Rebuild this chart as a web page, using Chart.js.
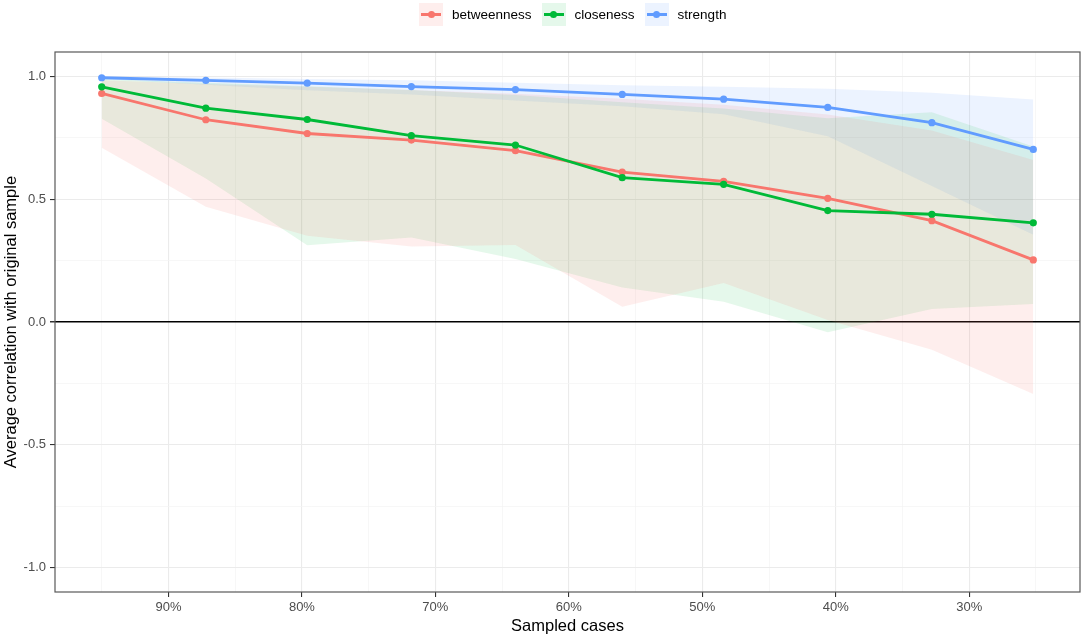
<!DOCTYPE html>
<html>
<head>
<meta charset="utf-8">
<script src="https://cdn.jsdelivr.net/npm/chart.js@4/dist/chart.umd.min.js"></script>
<style>
  html, body { margin: 0; padding: 0; background: #fff; }
  #wrap { position: relative; width: 1084px; height: 637px; }
  #legend {
    position: absolute; left: 419px; top: 3px;
    display: flex; align-items: center;
    font-family: "Liberation Sans", Arial, sans-serif; font-size: 13.5px; color: #000;
  }
  .item { display: flex; align-items: center; margin-right: 10px; }
  .key { position: relative; width: 24px; height: 23px; margin-right: 9px; }
  .key .ln { position: absolute; left: 2px; right: 2px; top: 10px; height: 3px; }
  .key .pt { position: absolute; left: 8.5px; top: 8px; width: 7px; height: 7px; border-radius: 50%; }
</style>
</head>
<body>
<div id="wrap">
  <canvas id="myChart" width="1084" height="637"></canvas>
  <div id="legend"></div>
</div>
<script>
// sampled cases (%)
const sampled = [95.0, 87.2, 79.6, 71.8, 64.0, 56.0, 48.4, 40.6, 32.8, 25.2];

const seriesNames = ["betweenness", "closeness", "strength"];
const seriesColors = ["#F8766D", "#00BA38", "#619CFF"];
const ribbonColors = ["rgba(248,118,109,0.12)", "rgba(0,186,56,0.10)", "rgba(97,156,255,0.12)"];

// average correlation with original sample
const betweenness = [0.931, 0.824, 0.768, 0.741, 0.698, 0.611, 0.573, 0.504, 0.413, 0.253];
const closeness   = [0.958, 0.871, 0.825, 0.759, 0.721, 0.588, 0.561, 0.454, 0.439, 0.404];
const strength    = [0.995, 0.984, 0.973, 0.959, 0.947, 0.927, 0.908, 0.874, 0.812, 0.703];

// quantile ribbons
const betweennessLower = [0.710, 0.470, 0.351, 0.308, 0.314, 0.062, 0.159, 0.008, -0.113, -0.293];
const betweennessUpper = [0.985, 0.970, 0.958, 0.945, 0.930, 0.910, 0.885, 0.845, 0.780, 0.660];
const closenessLower   = [0.828, 0.585, 0.313, 0.344, 0.257, 0.141, 0.083, -0.042, 0.053, 0.073];
const closenessUpper   = [0.990, 0.975, 0.960, 0.945, 0.925, 0.895, 0.870, 0.830, 0.855, 0.715];
const strengthLower    = [0.990, 0.967, 0.944, 0.927, 0.902, 0.879, 0.846, 0.757, 0.554, 0.355];
const strengthUpper    = [1.000, 0.996, 0.990, 0.985, 0.975, 0.965, 0.958, 0.950, 0.934, 0.906];

const xTickValues = [25, 30, 35, 40, 45, 50, 55, 60, 65, 70, 75, 80, 85, 90, 95];
const yTickValues = [-1, -0.75, -0.5, -0.25, 0, 0.25, 0.5, 0.75, 1];

const means = [betweenness, closeness, strength];
const lowers = [betweennessLower, closenessLower, strengthLower];
const uppers = [betweennessUpper, closenessUpper, strengthUpper];

const pts = arr => sampled.map((x, i) => ({ x: x, y: arr[i] }));

const datasets = [];
seriesNames.forEach((name, s) => {
  datasets.push({
    label: name + " lower", data: pts(lowers[s]),
    borderWidth: 0, pointRadius: 0, fill: false, order: 10
  });
  datasets.push({
    label: name + " upper", data: pts(uppers[s]),
    borderWidth: 0, pointRadius: 0, fill: "-1",
    backgroundColor: ribbonColors[s], order: 10
  });
});
seriesNames.forEach((name, s) => {
  datasets.push({
    label: name, data: pts(means[s]),
    borderColor: seriesColors[s], backgroundColor: seriesColors[s],
    borderWidth: 2.8, pointRadius: 3.6, pointBorderWidth: 0,
    tension: 0, fill: false, order: 3 - s
  });
});

const frame = {
  id: "frame",
  afterDatasetsDraw(chart) {
    const a = chart.chartArea, c = chart.ctx;
    c.save();
    c.strokeStyle = "#595959";
    c.lineWidth = 1.2;
    c.strokeRect(a.left, a.top, a.right - a.left, a.bottom - a.top);
    c.restore();
  }
};

const isMajorX = v => Math.abs(v % 10) < 1e-6;
const isMajorY = v => Math.abs((v * 2) - Math.round(v * 2)) < 1e-6;

new Chart(document.getElementById("myChart"), {
  type: "line",
  data: { datasets: datasets },
  plugins: [frame],
  options: {
    responsive: false,
    animation: false,
    layout: { padding: { top: 52, right: 2, left: 0, bottom: 0 } },
    plugins: {
      legend: { display: false },
      tooltip: { enabled: false },
      filler: { drawTime: "beforeDatasetsDraw" }
    },
    scales: {
      x: {
        type: "linear", reverse: true, min: 21.7, max: 98.5,
        afterBuildTicks: sc => { sc.ticks = xTickValues.map(v => ({ value: v })); },
        afterFit: sc => { sc.height = 45; },
        border: { display: false },
        grid: {
          color: c => isMajorX(c.tick.value) ? "#EBEBEB" : "#F3F3F3",
          lineWidth: c => isMajorX(c.tick.value) ? 1.1 : 0.7,
          tickColor: c => isMajorX(c.tick.value) ? "#333333" : "rgba(0,0,0,0)",
          tickLength: 5
        },
        ticks: {
          autoSkip: false, maxRotation: 0, padding: 3,
          color: "#4D4D4D",
          font: { family: "Liberation Sans", size: 13 },
          callback: v => isMajorX(v) ? v + "%" : ""
        },
        title: {
          display: true, text: "Sampled cases", color: "#000",
          font: { family: "Liberation Sans", size: 16.5 },
          padding: { top: 0, bottom: 1 }
        }
      },
      y: {
        type: "linear", min: -1.1, max: 1.1,
        afterBuildTicks: sc => { sc.ticks = yTickValues.map(v => ({ value: v })); },
        afterFit: sc => { sc.width = 55; },
        border: { display: false },
        grid: {
          color: c => c.tick.value === 0 ? "#000000" : (isMajorY(c.tick.value) ? "#EBEBEB" : "#F3F3F3"),
          lineWidth: c => c.tick.value === 0 ? 1.5 : (isMajorY(c.tick.value) ? 1.1 : 0.7),
          tickColor: c => isMajorY(c.tick.value) ? "#333333" : "rgba(0,0,0,0)",
          tickLength: 5
        },
        ticks: {
          autoSkip: false, padding: 4,
          color: "#4D4D4D",
          font: { family: "Liberation Sans", size: 13 },
          callback: v => isMajorY(v) ? v.toFixed(1) : ""
        },
        title: {
          display: true, text: "Average correlation with original sample", color: "#000",
          font: { family: "Liberation Sans", size: 16.5 },
          padding: { top: 2, bottom: 0 }
        }
      }
    }
  }
});

// legend
const legend = document.getElementById("legend");
seriesNames.forEach((name, s) => {
  const item = document.createElement("div");
  item.className = "item";
  item.innerHTML =
    '<div class="key" style="background:' + ribbonColors[s] + '">' +
    '<div class="ln" style="background:' + seriesColors[s] + '"></div>' +
    '<div class="pt" style="background:' + seriesColors[s] + '"></div></div>' +
    '<span>' + name + '</span>';
  legend.appendChild(item);
});
</script>
</body>
</html>
